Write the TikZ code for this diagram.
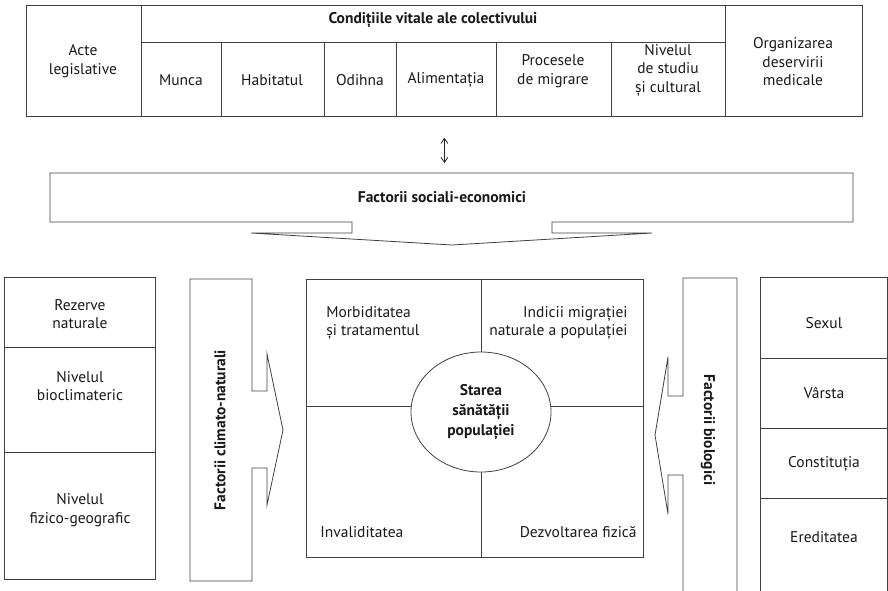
\documentclass[tikz,border=0pt]{standalone}
\usepackage{fontspec}
\setmainfont{PT Sans}
\usetikzlibrary{arrows.meta,shapes.geometric}
\begin{document}
\begin{tikzpicture}[x=1pt,y=-1pt,line width=0.8pt,
  ln/.style={draw=black!75},
  txt/.style={font=\fontsize{15.5}{18.5}\selectfont,align=center,inner sep=0pt,text=black!90},
  btxt/.style={txt,font=\fontsize{15.5}{20}\selectfont\bfseries},
  box/.style={draw=black!75,rectangle,anchor=north west,inner sep=0pt},
  arr/.style={draw=black!85,{Straight Barb[length=5pt,width=7pt]}-{Straight Barb[length=5pt,width=7pt]}}]
\useasboundingbox (0,0) rectangle (888,590);
% top table
\node[box,minimum width=836pt,minimum height=111pt] (tbl) at (26,5) {};
\draw[ln] (141,5) -- (141,116) (725,5) -- (725,116) (141,42) -- (725,42);
\draw[ln] (221,42) -- (221,116) (324,42) -- (324,116) (396,42) -- (396,116)
          (496,42) -- (496,116) (611,42) -- (611,116);
\node[txt] (acte) at (83,61) {Acte\\legislative};
\node[btxt] (cond) at (433,20) {Condițiile vitale ale colectivului};
\node[txt] (munca) at (181,80) {Munca};
\node[txt] (hab) at (272,80) {Habitatul};
\node[txt] (odi) at (360,80) {Odihna};
\node[txt] (alim) at (446,80) {Alimentația};
\node[txt] (proc) at (553,71) {Procesele\\de migrare};
\node[txt] (niv) at (668,70) {Nivelul\\de studiu\\și cultural};
\node[txt] (org) at (793,62) {Organizarea\\deservirii\\medicale};
% social-economic box with arrow
\node[inner sep=0pt,minimum width=803pt,minimum height=49pt,anchor=north west] (soc) at (50,173) {};
\draw[ln] (352,222) -- (50,222) -- (50,173) -- (853,173) -- (853,222) -- (552,222)
  -- (552,233) -- (652,233) -- (452,245) -- (251,233) -- (352,233) -- cycle;
\node[btxt] (soctxt) at (442,197) {Factorii sociali-economici};
\draw[arr,shorten <=21pt,shorten >=10pt] (tbl.south) -- (tbl.south |- soc.north);
% left column
\draw[ln] (4,277) rectangle (155,579) (4,347) -- (155,347) (4,452) -- (155,452);
\node[txt] (rez) at (80,314) {Rezerve\\naturale};
\node[txt] (bio) at (80,386) {Nivelul\\bioclimateric};
\node[txt] (fiz) at (80,510) {Nivelul\\fizico-geografic};
% left arrow
\draw[ln] (190,279) -- (252,279) -- (252,391) -- (267,391) -- (267,354) -- (283,430)
  -- (267,505) -- (267,468) -- (252,468) -- (252,581) -- (190,581) -- cycle;
\node[btxt,rotate=90] (fcn) at (220,430) {Factorii climato-naturali};
% center
\draw[ln] (306,279) rectangle (643,557) (481,279) -- (481,557) (306,406) -- (643,406);
\node[ellipse,draw=black!75,fill=white,minimum width=140pt,minimum height=120pt,inner sep=0pt,
  btxt] (st) at (481,412) {Starea\\sănătății\\populației};
\node[txt,align=left,anchor=west] (morb) at (326,323) {Morbiditatea\\și tratamentul};
\node[txt,align=right,anchor=east] (ind) at (628,323) {Indicii migrației\\naturale a populației};
\node[txt,anchor=west] (inv) at (320,532) {Invaliditatea};
\node[txt,anchor=east] (dez) at (637,532) {Dezvoltarea fizică};
% right arrow
\draw[ln] (683,592) -- (683,475) -- (668,475) -- (668,514) -- (655,435) -- (668,357)
  -- (668,396) -- (683,396) -- (683,278) -- (737,278) -- (737,592);
\node[btxt,rotate=-90] (fb) at (708,430) {Factorii biologici};
% right column
\draw[ln] (760,592) -- (760,277) -- (887,277) -- (887,592)
  (760,358) -- (887,358) (760,428) -- (887,428) (760,498) -- (887,498);
\node[txt] (sex) at (824,323) {Sexul};
\node[txt] (var) at (824,393) {Vârsta};
\node[txt] (con) at (824,464) {Constituția};
\node[txt] (ere) at (824,537) {Ereditatea};
\end{tikzpicture}
\end{document}
